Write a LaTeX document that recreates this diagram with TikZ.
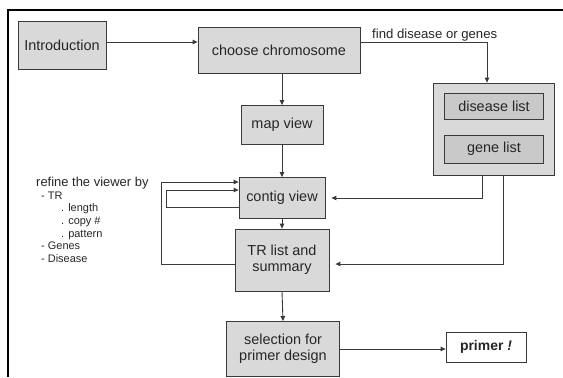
\documentclass[tikz,border=0pt]{standalone}
\usepackage{fontspec}
\setmainfont{Liberation Sans}
\usetikzlibrary{arrows.meta}

\definecolor{boxfill}{HTML}{D9D9D9}
\definecolor{innerfill}{HTML}{C9C9C9}
\definecolor{edge}{HTML}{3A3A3A}
\definecolor{ink}{HTML}{262626}

\tikzset{
  box/.style={draw=edge, fill=boxfill, line width=0.8bp, inner sep=0pt,
    align=center, text=ink, font=\fontsize{14.5}{16.5}\selectfont},
  innerbox/.style={box, fill=innerfill},
  link/.style={draw=edge, line width=0.9bp},
  arr/.style={link, -{Triangle[length=5bp,width=4.5bp]}},
}

\begin{document}
\begin{tikzpicture}[x=1bp, y=-1bp]
\useasboundingbox (0,0) rectangle (563,377);

% open frame: top and left edges only
\draw[black, line width=2.6bp] (563,10) -- (8,10) -- (8,377);

% main flow boxes
\node[box, minimum width=88bp, minimum height=48bp] (intro) at (62,45) {Introduction};
\node[box, minimum width=162bp, minimum height=46bp] (chrom) at (279,50) {choose chromosome};
\node[box, minimum width=82bp, minimum height=39bp] (map) at (282,125) {map view};
\node[box, minimum width=86bp, minimum height=41bp] (contig) at (282,198) {contig view};
\node[box, minimum width=94bp, minimum height=62bp] (tr) at (282,260) {TR list and\\summary};
\node[box, minimum width=113bp, minimum height=55bp] (sel) at (283,349) {selection for\\primer design};
\node[box, fill=white, minimum width=80bp, minimum height=30bp,
      font=\fontsize{14}{16.5}\selectfont\bfseries] (primer) at (486,347) {primer \textit{!}};

% disease / gene lists
\node[box, minimum width=121bp, minimum height=92bp] (lists) at (494,129) {};
\node[innerbox, minimum width=99bp, minimum height=26bp] (dis) at (494,106) {disease list};
\node[innerbox, minimum width=99bp, minimum height=28bp] (gene) at (494,149) {gene list};

% labels
\node[anchor=base west, inner sep=0pt, text=ink, font=\fontsize{13.2}{15}\selectfont] (find) at (372,38) {find disease or genes};
\node[anchor=north west, inner sep=0pt, align=left, text=ink, font=\fontsize{11}{12.7}\selectfont] (refine) at (36,177)
  {\fontsize{13}{12.7}\selectfont refine the viewer by\\
   \hspace*{5bp}- TR\\
   \hspace*{25bp}. length\\
   \hspace*{25bp}. copy \#\\
   \hspace*{25bp}. pattern\\
   \hspace*{5bp}- Genes\\
   \hspace*{5bp}- Disease};

% turning points
\coordinate (rowA) at (0,42);
\coordinate (colF) at (487,0);
\coordinate (colC) at (482,0);
\coordinate (colT) at (503,0);
\coordinate (bigL) at (161,0);
\coordinate (smlL) at (166,0);

% connectors
\draw[arr] (intro.east |- rowA) -- (chrom.west |- rowA);
\draw[arr] (chrom.east |- rowA) -| (colF |- lists.north);
\draw[arr] (chrom.south -| map.north) -- (map.north);
\draw[arr] (map.south) -- (contig.north);
\draw[arr] (contig.south) -- (tr.north);
\draw[arr] (tr.south) -- (sel.north);
\draw[arr] (sel.east) -- (primer.west |- sel.east);
\draw[arr] (colC |- lists.south) |- ([xshift=6bp]contig.east);
\draw[arr] (colT |- lists.south) |- ([xshift=6bp,yshift=-4bp]tr.east);
% feedback loops into the contig view
\draw[arr] ([yshift=-4bp]tr.west) -| ([yshift=16bp]bigL |- contig.west) -- ([yshift=16bp]contig.west);
\draw[arr] ([yshift=-9bp]contig.west) -| ([yshift=8bp]smlL |- contig.west) -- ([yshift=8bp]contig.west);
\end{tikzpicture}
\end{document}
